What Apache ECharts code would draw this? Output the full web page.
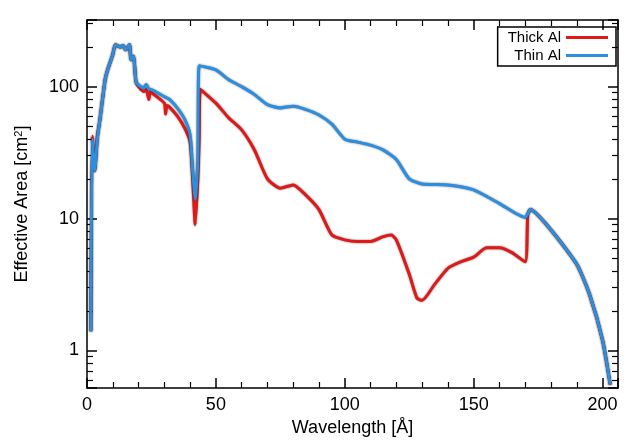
<!DOCTYPE html><html><head><meta charset="utf-8"><script src="https://cdn.jsdelivr.net/npm/echarts@6/dist/echarts.min.js"></script></head><body style="margin:0"><div id="c" style="width:633px;height:445px"></div><script>
const thinX=[1.5,2,3,4,5,7,8,10,11,13,14,15,16.5,17,18,19,20,22,23,24,25,30,31,32,35,38,40,41,42,43,43.5,50,55,60,65,70,75,80,85,90,95,100,105,110,115,120,125,130,140,150,160,170,172,180,190,195,200,203];
const thinY=[1.4,40,23,40,56,112,134,175,208,200,205,190,208,160,170,109,103,98,104,96,95,84,82,80,69,56,43,23,14,28,144,134,113,100,87,73,69,71,67,61,52,40,38,36,33,28,20,18.3,18,16.5,13,10.2,11.7,8.2,4.5,2.65,1.2,0.55];
const thickX=[1.5,2,3,4,5,7,8,10,11,13,14,15,16.5,17,18,19,20,22,23,24,24.5,25,30,30.5,31,32,35,38,40,41,42,43,43.5,44,50,55,60,65,70,75,80,85,90,95,100,105,110,115,118,120,125,128,130,135,140,145,150,155,160,165,170,171,172,180,190,195,200,203];
const thickY=[1.4,42,23,42,56,112,134,175,208,200,205,190,208,160,170,109,100,92,95,80,92,90,75,62,72,70,60,48,38,20,9,20,40,95,75,58,47,33,20,17,18,15,11.7,7.5,6.9,6.7,6.7,7.3,7.5,6.9,3.8,2.5,2.4,3.2,4.2,4.7,5.1,6.0,6.0,5.5,4.7,10.7,11.7,8.2,4.5,2.65,1.2,0.55];
const xTicks=[0,50,100,150,200];
const yTicks=[1,10,100];
const F='Liberation Sans, Arial, sans-serif';
const ch=echarts.init(document.getElementById('c'));
const lab={color:'#000',fontSize:18,fontFamily:F};
function xa(pos,show){return {type:'value',position:pos,min:0,max:206,interval:50,axisLine:{onZero:false,lineStyle:{color:'#000',width:1.5}},
 axisTick:{show:true,inside:true,length:10,lineStyle:{color:'#000',width:1.5}},minorTick:{show:true,splitNumber:5,length:6,lineStyle:{color:'#000',width:1.2}},splitLine:{show:false},
 axisLabel:Object.assign({show:show,formatter:v=>xTicks.includes(v)?v:''},lab),name:show?'Wavelength [Å]':'',nameLocation:'middle',nameGap:30,nameTextStyle:lab};}
function ya(pos,show){return {type:'log',position:pos,min:0.52,max:320,axisLine:{onZero:false,lineStyle:{color:'#000',width:1.5}},
 axisTick:{show:true,inside:true,length:10,lineStyle:{color:'#000',width:1.5}},minorTick:{show:true,splitNumber:9,length:6,lineStyle:{color:'#000',width:1.2}},splitLine:{show:false},
 axisLabel:Object.assign({show:show,inside:false,formatter:v=>yTicks.some(t=>Math.abs(t-v)<1e-6)?v:''},lab),
 name:show?'{a|Effective Area [cm}{s|2}{a|]}':'',nameLocation:'middle',nameGap:55,
 nameTextStyle:{rich:{a:lab,s:{fontSize:11,fontFamily:F,color:'#000',verticalAlign:'top',padding:[0,0,8,0]}}}};}
ch.setOption({animation:false,
grid:{left:87,right:15,top:20,bottom:57},
legend:{right:17,top:27,orient:'vertical',align:'right',itemWidth:42,itemHeight:3,itemGap:3,padding:[3,8,3,10],borderColor:'#000',borderWidth:1.5,textStyle:{fontFamily:F,fontSize:15,color:'#000'},icon:'rect'},
xAxis:[xa('bottom',true),xa('top',false)],
yAxis:[ya('left',true),ya('right',false)],
series:[
{name:'Thick Al',type:'line',showSymbol:false,smooth:0.2,color:'#e01818',lineStyle:{width:3,shadowColor:'rgba(0,0,0,0.6)',shadowBlur:2},data:thickX.map((x,i)=>[x,thickY[i]])},
{name:'Thin Al',type:'line',showSymbol:false,smooth:0.2,color:'#2a8fe0',lineStyle:{width:3,shadowColor:'rgba(0,0,0,0.6)',shadowBlur:2},data:thinX.map((x,i)=>[x,thinY[i]])}
]});
</script></body></html>
